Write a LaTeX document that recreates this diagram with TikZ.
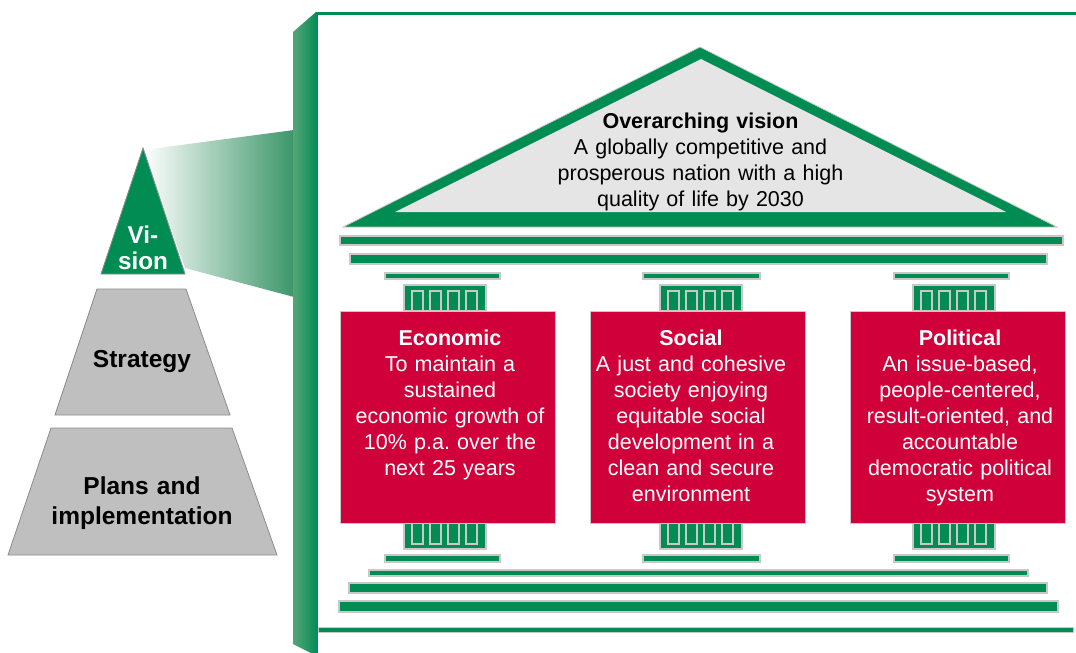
\documentclass[tikz,border=0pt]{standalone}
\usepackage{fontspec}
\setmainfont{Liberation Sans}
\frenchspacing
\definecolor{tgreen}{RGB}{0,140,82}
\definecolor{tred}{RGB}{208,0,58}
\definecolor{pgray}{RGB}{191,191,191}
\definecolor{pedge}{RGB}{140,140,140}
\definecolor{lgray}{RGB}{200,200,200}
\definecolor{rooffill}{RGB}{229,229,229}
\definecolor{wallL}{RGB}{85,165,120}
\definecolor{beamR}{RGB}{60,150,105}
\begin{document}
\begin{tikzpicture}[x=1pt,y=-1pt,
  gbar/.style={fill=tgreen,draw=lgray,line width=1.2pt},
  flute/.style={draw=lgray,line width=1.2pt},
  pillarbox/.style={fill=tred,draw=lgray,line width=0.8pt},
  pyr/.style={fill=pgray,draw=pedge,line width=0.8pt},
  boxtext/.style={text=white,text width=215pt,align=center,inner sep=0pt,anchor=base,
    font=\fontsize{21.5}{26}\selectfont},
  rooftext/.style={text=black,text width=320pt,align=center,inner sep=0pt,anchor=base,
    font=\fontsize{21.5}{26.3}\selectfont},
  pyrtext/.style={text=black,text width=200pt,align=center,inner sep=0pt,anchor=base,
    font=\fontsize{24.5}{30}\selectfont\bfseries},
  vistext/.style={text=white,text width=80pt,align=center,inner sep=0pt,anchor=base,
    font=\fontsize{24.3}{26}\selectfont\bfseries}]
\useasboundingbox (0,0) rectangle (1076,653);

% ---- left pyramid with beam ----
\shade[left color=white,right color=beamR] (143,150) -- (294,130) -- (294,297) -- (185,268) -- cycle;
\draw[pyr] (55,415) -- (97,289) -- (186,289) -- (230,415) -- cycle;
\draw[pyr] (8,555) -- (51,428) -- (232,428) -- (277,555) -- cycle;
\draw[fill=tgreen,draw=pedge,line width=0.8pt] (101,274) -- (143,148) -- (185,274) -- cycle;
\node[vistext] (vis) at (143,243) {Vi-\\sion};
\node[pyrtext] (strat) at (142,367.5) {Strategy};
\node[pyrtext] (plans) at (142,494) {Plans and\\implementation};

% ---- wall ----
\shade[left color=wallL,right color=tgreen] (293,32) -- (316,12) -- (318,12) -- (318,653) -- (311,653) -- (293,644) -- cycle;
\draw[tgreen,line width=3pt] (316,13.5) -- (1076,13.5);

% ---- roof ----
\draw[fill=tgreen,draw=lgray,line width=0.8pt] (343,227) -- (700,47) -- (1057,227) -- cycle;
\fill[rooffill] (395,212) -- (701,59) -- (1006,212) -- cycle;
\node[rooftext] (roof) at (700.5,128) {\textbf{Overarching vision}\\A globally competitive and\\prosperous nation with a high\\quality of life by 2030};

% ---- entablature ----
\draw[gbar] (340,236) rectangle (1063,245);
\draw[gbar] (350,254) rectangle (1047,264);

% ---- columns ----
\foreach \bl/\bL/\bR in {404/385/500, 660/643/760, 913/894/1009}{
  \draw[gbar] (\bL,273) rectangle (\bR,279);
  \draw[gbar] (\bl,285) rectangle ({\bl+82},311);
  \foreach \k in {0,1,2,3}{
    \draw[flute] ({\bl+8+18*\k},291) rectangle ({\bl+19+18*\k},311);
  }
  \draw[gbar] (\bl,523) rectangle ({\bl+82},549);
  \foreach \k in {0,1,2,3}{
    \draw[flute] ({\bl+8+18*\k},523) rectangle ({\bl+19+18*\k},544);
  }
  \draw[gbar] (\bL,555) rectangle (\bR,562);
}

% ---- pillars ----
\draw[pillarbox] (340,311) rectangle (555,523);
\draw[pillarbox] (590,311) rectangle (805,523);
\draw[pillarbox] (850,311) rectangle (1065,523);
\node[boxtext] (eco) at (450,345) {\textbf{Economic}\\To maintain a\\sustained\\economic growth of\\10\% p.a. over the\\next 25 years};
\node[boxtext] (soc) at (691,345) {\textbf{Social}\\A just and cohesive\\society enjoying\\equitable social\\development in a\\clean and secure\\environment};
\node[boxtext] (pol) at (960,345) {\textbf{Political}\\An issue-based,\\people-centered,\\result-oriented, and\\accountable\\democratic political\\system};

% ---- base steps ----
\draw[gbar] (369,570) rectangle (1028,576);
\draw[gbar] (349,583) rectangle (1047,593);
\draw[gbar] (339,601) rectangle (1058,612);
\draw[gbar,line width=1pt] (318,627) rectangle (1073,632);
\end{tikzpicture}
\end{document}
